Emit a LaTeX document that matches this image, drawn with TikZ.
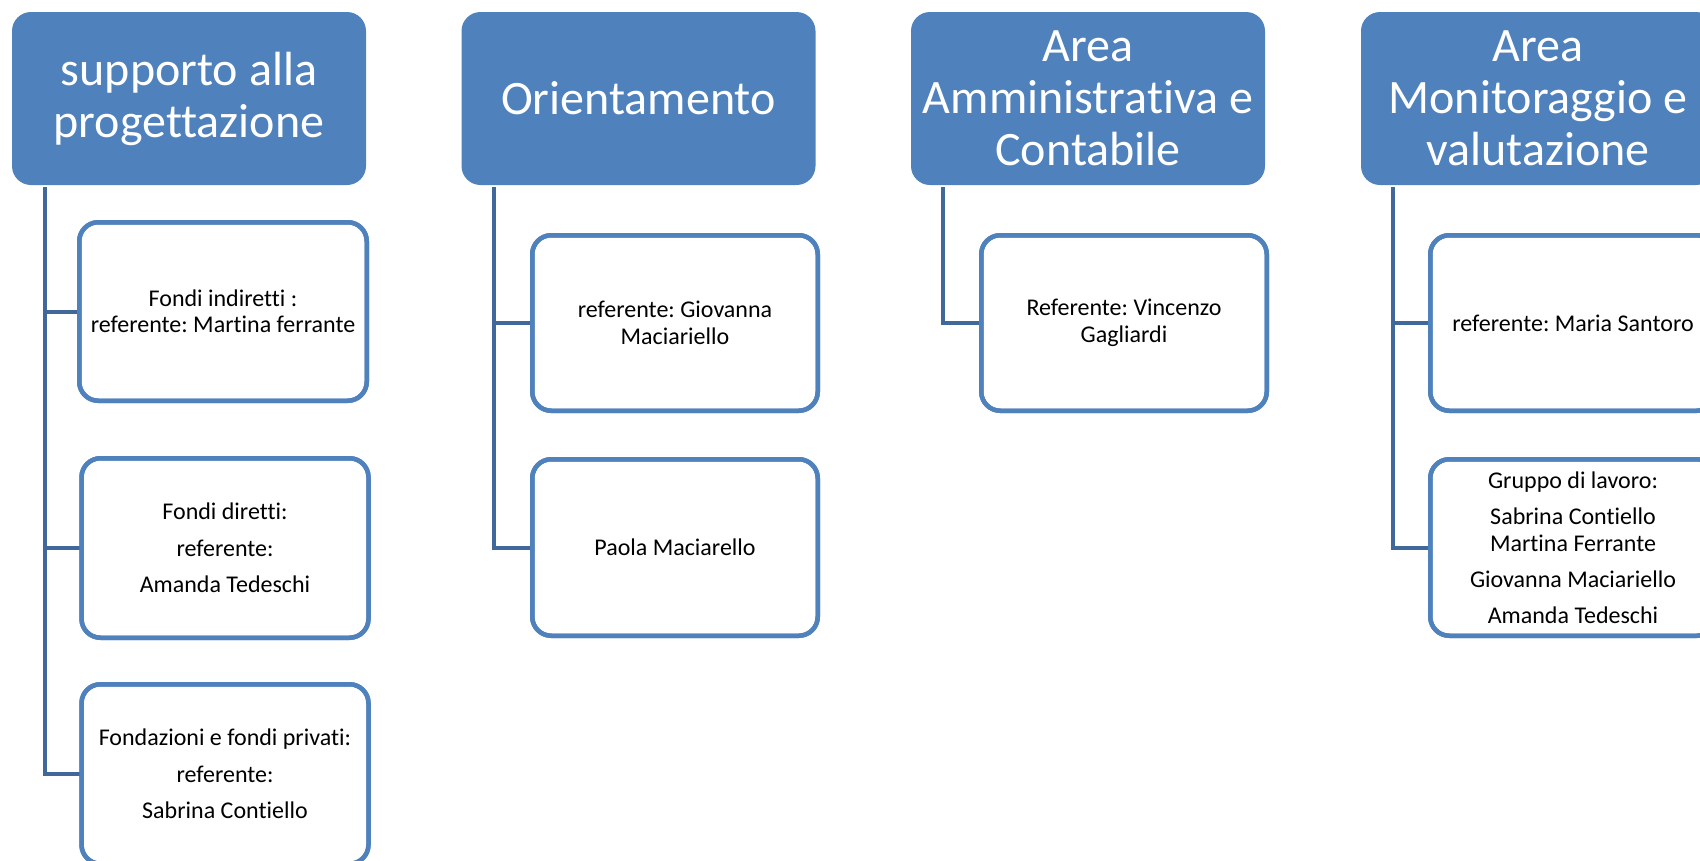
\documentclass[tikz,border=0pt]{standalone}
\usepackage{fontspec}
\setmainfont[Ligatures={NoCommon}]{Carlito}
\frenchspacing
\definecolor{hdrblue}{RGB}{79,129,189}
\definecolor{connblue}{RGB}{65,104,154}
\tikzset{
  hdr/.style={fill=hdrblue, draw=none, rounded corners=19pt, minimum width=354pt, minimum height=173pt,
    text=white, align=center, font=\fontsize{48}{52}\selectfont, inner sep=0pt, outer sep=0pt},
  child/.style={fill=white, draw=hdrblue, line width=4.5pt, rounded corners=19pt,
    minimum width=287pt, minimum height=176pt, align=center, font=\fontsize{24}{26.5}\selectfont, inner sep=0pt, outer sep=0pt},
  conn/.style={draw=connblue, line width=4pt, line join=miter},
  border/.style={draw=hdrblue, line width=4.5pt, rounded corners=19pt},
}
\begin{document}
\begin{tikzpicture}[x=1pt,y=-1pt]
\useasboundingbox (0,0) rectangle (1700,860);
\clip (0,0) rectangle (1700,860);
% headers
\node[hdr] (h1) at (189,98.5) {supporto alla\\progettazione};
\node[hdr] (h2) at (638.5,98.5) {Orientamento};
\node[hdr] (h3) at (1088,98.5) {Area\\Amministrativa e\\Contabile};
\node[hdr] (h4) at (1538,98.5) {Area\\Monitoraggio e\\valutazione};
% spine tops
\coordinate (s1) at (45,187);
\coordinate (s2) at (494,187);
\coordinate (s3) at (943,187);
\coordinate (s4) at (1393,187);
% child boxes
\node[child, minimum width=287.5pt, minimum height=178.5pt] (b11) at (223,311.5) {Fondi indiretti :\\referente: Martina ferrante};
\node[child, minimum height=179.5pt] (b12) at (225,548) {Fondi diretti:\\[10pt]referente:\\[10pt]Amanda Tedeschi};
\node[child, minimum height=179.5pt] (b13) at (225,774) {Fondazioni e fondi privati:\\[10pt]referente:\\[10pt]Sabrina Contiello};
\node[child, minimum width=285.5pt, minimum height=175.5pt] (b21) at (675,323) {referente: Giovanna\\Maciariello};
\node[child, minimum width=285.5pt, minimum height=176.5pt] (b22) at (675,547.5) {Paola Maciarello};
\node[child, minimum width=285.5pt, minimum height=175.5pt] (b31) at (1124,323) {Referente: Vincenzo\\Gagliardi};
\node[child, minimum width=285.5pt, minimum height=175.5pt] (b41) at (1573,323) {referente: Maria Santoro};
\node[child, minimum width=285.5pt, minimum height=176.5pt] (b42) at (1573,547.5) {Gruppo di lavoro:\\[9.5pt]Sabrina Contiello\\Martina Ferrante\\[9.5pt]Giovanna Maciariello\\[9.5pt]Amanda Tedeschi};
% connectors
\draw[conn] (s1) |- (b13.west);
\draw[conn] (s1) |- (b11.west);
\draw[conn] (s1) |- (b12.west);
\draw[conn] (s2) |- (b22.west);
\draw[conn] (s2) |- (b21.west);
\draw[conn] (s3) |- (b31.west);
\draw[conn] (s4) |- (b42.west);
\draw[conn] (s4) |- (b41.west);
% redraw box borders over connector ends
\foreach \b in {b11,b12,b13,b21,b22,b31,b41,b42}{
  \draw[border] (\b.south west) rectangle (\b.north east);
}
\end{tikzpicture}
\end{document}
